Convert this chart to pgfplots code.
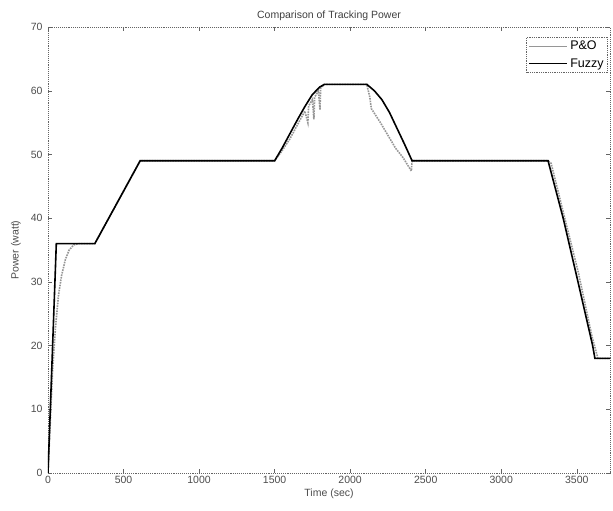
\documentclass[border=0pt]{standalone}
\usepackage{pgfplots}
\pgfplotsset{compat=1.18}
\usepackage{fontspec}
\setmainfont{Liberation Sans}
\definecolor{axgray}{RGB}{100,100,100}
\definecolor{pogray}{RGB}{150,150,150}
\begin{document}
\begin{tikzpicture}[x=1pt,y=1pt]
\begin{axis}[
  name=ax,
  scale only axis,
  width=562pt, height=446pt,
  xmin=0, xmax=3720, ymin=0, ymax=70,
  xtick={0,500,...,3500}, ytick={0,10,...,70},
  tick align=inside, tick pos=both,
  major tick length=4pt,
  axis line style={axgray, densely dotted, line width=0.9pt},
  every tick/.style={axgray},
  tick label style={font=\fontsize{10.5}{12}\selectfont, text=black!70},
  yticklabel style={xshift=-2pt},
  /pgf/number format/assume math mode=true,
  scaled x ticks=false,
  xticklabel style={/pgf/number format/1000 sep={}},
  title={Comparison of Tracking Power},
  title style={font=\fontsize{10.5}{12}\selectfont, text=black!75, yshift=-3pt},
  xlabel={Time (sec)}, ylabel={Power (watt)},
  label style={font=\fontsize{10.5}{12}\selectfont, text=black!70},
  xlabel style={yshift=2pt},
  ylabel style={yshift=3pt},
  legend style={at={(1,0.978)}, anchor=north east, xshift=-2pt,
    font=\fontsize{12.5}{14}\selectfont, draw=axgray, densely dotted, line width=0.8pt,
    inner sep=2pt, row sep=3pt, legend cell align=left},
  legend image code/.code={\draw[#1, solid] (0pt,0pt) -- (38pt,0pt);},
]
\addplot[pogray, densely dotted, line width=1.6pt] coordinates {
(0,0) (15,8) (30,16) (50,23) (70,28) (90,31) (115,33.5) (140,35) (170,35.8) (200,36)
(310,36) (610,49) (1500,49)
(1550,50.6) (1600,52.4) (1650,54.6) (1700,56.8) (1720,55) (1725,57.6) (1750,58.6)
(1760,55.5) (1765,59) (1790,60) (1800,57) (1805,60.4) (1830,61) (2110,61)
(2130,59) (2140,57.2) (2200,55) (2250,53) (2300,51) (2350,49.5) (2405,47.4) (2410,49)
(3310,49) (3330,48.6) (3410,41) (3510,31.5) (3600,21.5) (3640,18) (3720,18)
};
\addlegendentry{P\&O}
\addplot[black, line width=1.6pt] coordinates {
(0,0) (55,36) (310,36) (610,49) (1500,49)
(1550,51) (1600,53.2) (1650,55.4) (1700,57.5) (1750,59.4) (1800,60.6) (1830,61) (2110,61)
(2160,60) (2210,58.6) (2260,56.6) (2310,54.1) (2360,51.6) (2410,49)
(3310,49) (3410,40) (3510,29.8) (3605,20) (3620,18) (3720,18)
};
\addlegendentry{Fuzzy}
\end{axis}
\pgfresetboundingbox
\useasboundingbox ([shift={(-48pt,-38pt)}]ax.south west) rectangle ([shift={(3pt,27pt)}]ax.north east);
\end{tikzpicture}
\end{document}
